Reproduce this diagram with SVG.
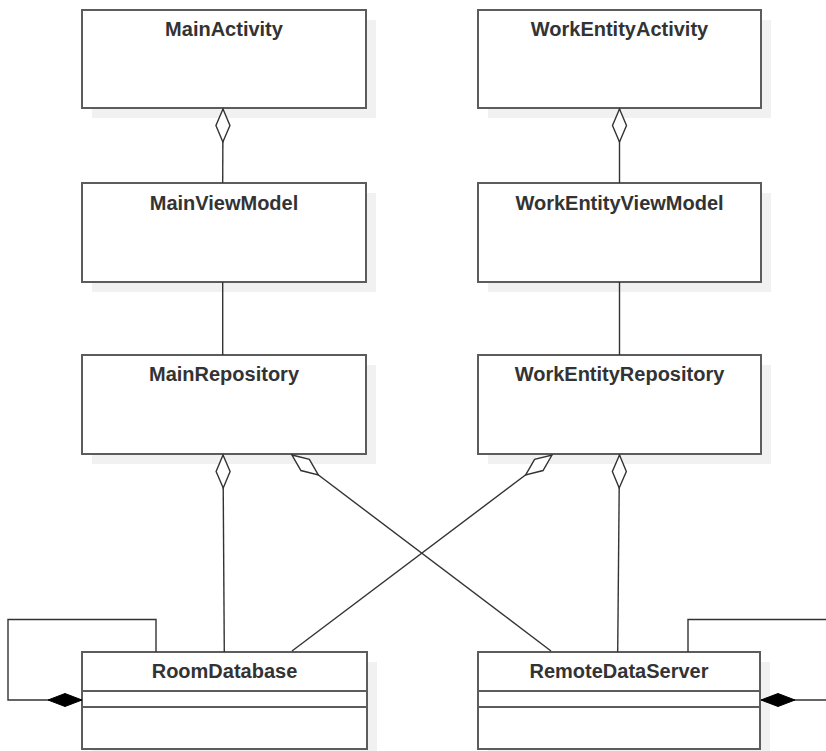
<svg xmlns="http://www.w3.org/2000/svg" width="826" height="751" viewBox="0 0 826 751">
  <style>
    .shadow { fill: #f1f1f1; stroke: none; }
    .box { fill: #ffffff; stroke: #5c5c5c; stroke-width: 2; }
    .div { stroke: #5c5c5c; stroke-width: 2; fill: none; }
    .title { font-family: "Liberation Sans", Arial, sans-serif; font-size: 20px; font-weight: bold; fill: #333333; text-anchor: middle; }
    .edge { fill: none; stroke: #333333; stroke-width: 1.4; }
    .agg { marker-start: url(#hollow); }
    .comp { marker-end: url(#solid); }
  </style>
  <defs>
    <!-- open (aggregation) diamond, tip at the owning class -->
    <marker id="hollow" markerUnits="userSpaceOnUse" markerWidth="40" markerHeight="20" refX="0" refY="0" orient="auto" overflow="visible" viewBox="-2 -10 40 20">
      <path d="M0,0 L16.5,-7 L33,0 L16.5,7 Z" fill="#ffffff" stroke="#333333" stroke-width="1.4"/>
    </marker>
    <!-- filled (composition) diamond, tip at the path end -->
    <marker id="solid" markerUnits="userSpaceOnUse" markerWidth="40" markerHeight="20" refX="0" refY="0" orient="auto" overflow="visible" viewBox="-38 -10 40 20">
      <path d="M0,0 L-17,-6.5 L-34,0 L-17,6.5 Z" fill="#000000" stroke="#000000" stroke-width="1"/>
    </marker>
  </defs>

  <g id="MainActivity">
    <rect class="shadow" x="92" y="20" width="284" height="98"/>
    <rect class="box" x="82" y="10" width="284" height="98"/>
    <text class="title" x="224" y="36">MainActivity</text>
  </g>

  <g id="WorkEntityActivity">
    <rect class="shadow" x="488" y="20" width="283" height="98"/>
    <rect class="box" x="478" y="10" width="283" height="98"/>
    <text class="title" x="619.5" y="36">WorkEntityActivity</text>
  </g>

  <g id="MainViewModel">
    <rect class="shadow" x="92" y="193" width="284" height="99"/>
    <rect class="box" x="82" y="183" width="284" height="99"/>
    <text class="title" x="224" y="210">MainViewModel</text>
  </g>

  <g id="WorkEntityViewModel">
    <rect class="shadow" x="488" y="193" width="283" height="99"/>
    <rect class="box" x="478" y="183" width="283" height="99"/>
    <text class="title" x="619.5" y="210">WorkEntityViewModel</text>
  </g>

  <g id="MainRepository">
    <rect class="shadow" x="92" y="365" width="284" height="99"/>
    <rect class="box" x="82" y="355" width="284" height="99"/>
    <text class="title" x="224" y="381">MainRepository</text>
  </g>

  <g id="WorkEntityRepository">
    <rect class="shadow" x="488" y="365" width="283" height="99"/>
    <rect class="box" x="478" y="355" width="283" height="99"/>
    <text class="title" x="619.5" y="381">WorkEntityRepository</text>
  </g>

  <g id="RoomDatabase">
    <rect class="shadow" x="92" y="662" width="285" height="97"/>
    <rect class="box" x="82" y="652" width="285" height="97"/>
    <line class="div" x1="82" y1="691" x2="367" y2="691"/>
    <line class="div" x1="82" y1="707" x2="367" y2="707"/>
    <text class="title" x="224.5" y="678">RoomDatabase</text>
  </g>

  <g id="RemoteDataServer">
    <rect class="shadow" x="488" y="662" width="282" height="97"/>
    <rect class="box" x="478" y="652" width="282" height="97"/>
    <line class="div" x1="478" y1="691" x2="760" y2="691"/>
    <line class="div" x1="478" y1="707" x2="760" y2="707"/>
    <text class="title" x="619" y="678">RemoteDataServer</text>
  </g>

  <g id="connectors">
    <!-- activity owns view model -->
    <path class="edge agg" d="M223,109 L222.7,183"/>
    <path class="edge agg" d="M619.5,109 L619.5,183"/>
    <!-- view model to repository -->
    <path class="edge" d="M222.7,282 L222.7,355"/>
    <path class="edge" d="M619.5,282 L619.5,355"/>
    <!-- repositories aggregate the data sources -->
    <path class="edge agg" d="M223,455 L224.3,652"/>
    <path class="edge agg" d="M292,455 L551,651"/>
    <path class="edge agg" d="M552,455 L292,651"/>
    <path class="edge agg" d="M619.5,455 L617.7,652"/>
    <!-- self compositions -->
    <path class="edge comp" d="M156,652 V619.5 H8 V700 H82"/>
    <path class="edge comp" d="M688,652 V619.5 H840 V700 H761"/>
  </g>
</svg>
